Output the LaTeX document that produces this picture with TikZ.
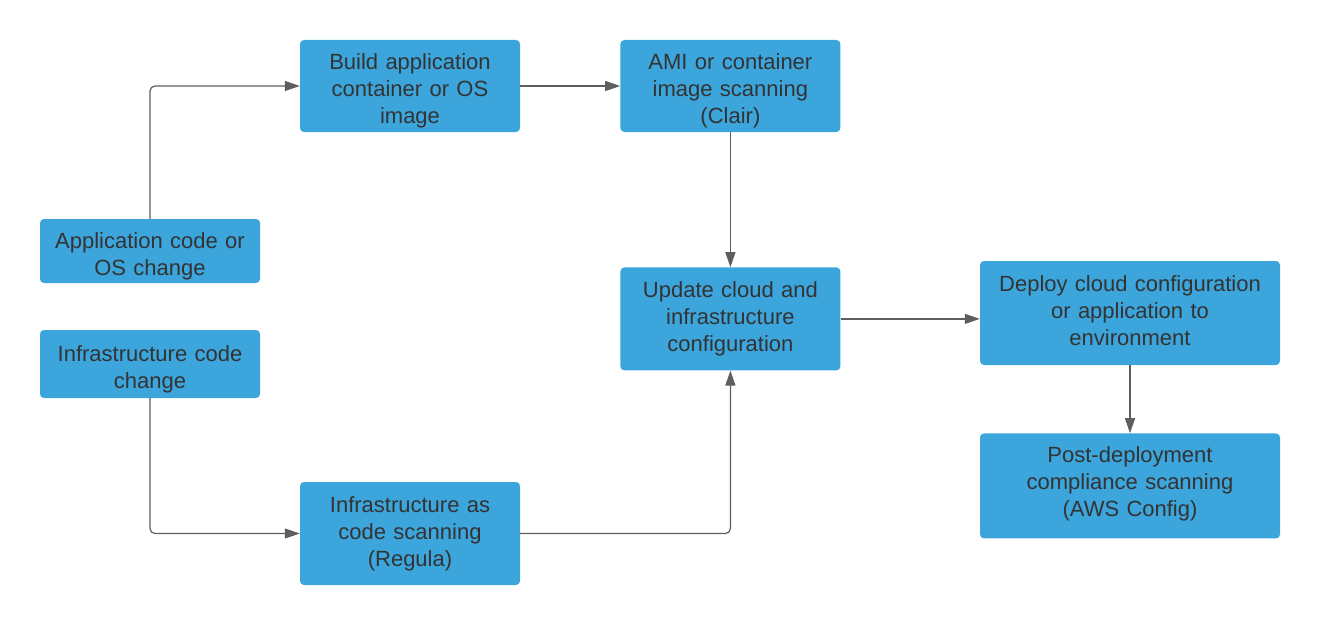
\documentclass[tikz,border=0pt]{standalone}
\usepackage{fontspec}
\setmainfont{Liberation Sans}
\usepackage{tikz}
\usetikzlibrary{arrows.meta, positioning}
\definecolor{stepblue}{RGB}{59,165,220}
\definecolor{textgray}{RGB}{51,51,51}
\definecolor{linegray}{RGB}{94,94,94}
\newcommand{\boxkern}{10pt}
\newcommand{\boxtail}{\endgraf\kern-\boxkern}

\begin{document}
\begin{tikzpicture}[
    x=1pt, y=1pt,
    node distance=100pt and 100pt,
    box/.style={rectangle, rounded corners=4pt, fill=stepblue, text=textgray,
                minimum width=220pt, text width=216pt, inner sep=0pt, align=center,
                font=\fontsize{22}{27}\selectfont,
                execute at end node=\boxtail},
    tallbox/.style={box, /utils/exec={\def\boxkern{0pt}}},
    widebox/.style={box, minimum width=300pt, text width=290pt, /utils/exec={\def\boxkern{-4pt}}},
    arr/.style={-{Triangle[length=15pt, width=10pt]}, draw=linegray, line width=1.2pt, rounded corners=5pt},
]
    \useasboundingbox (0,0) rectangle (1320,-626);

    \node[box, minimum height=64pt] (appcode) at (150,-251) {Application code or\\OS change};
    \node[box, minimum height=68pt] (infracode) at (150,-364) {Infrastructure code\\change};
    \node[box, minimum height=92pt] (build) at (410,-86) {Build application\\container or OS\\image};
    \node[box, minimum height=92pt, right=100pt of build] (ami) {AMI or container\\image scanning\\(Clair)};
    \node[tallbox, minimum height=103pt, below=135pt of ami] (update) {Update cloud and\\infrastructure\\configuration};
    \node[tallbox, minimum height=103pt] (iacscan) at (410,-533.5) {Infrastructure as\\code scanning\\(Regula)};
    \node[widebox, minimum height=104pt] (deploy) at (1130,-313) {Deploy cloud configuration\\or application to\\environment};
    \node[widebox, minimum height=105pt, below=68pt of deploy] (post) {Post-deployment\\compliance scanning\\(AWS Config)};

    \draw[arr] (appcode.north) |- (build.west);
    \draw[arr] (build) -- (ami);
    \draw[arr] (ami) -- (update);
    \draw[arr] (infracode.south) |- (iacscan.west);
    \draw[arr] (iacscan.east) -| (update.south);
    \draw[arr] (update.east) -- (update.east -| deploy.west);
    \draw[arr] (deploy) -- (post);
\end{tikzpicture}
\end{document}
